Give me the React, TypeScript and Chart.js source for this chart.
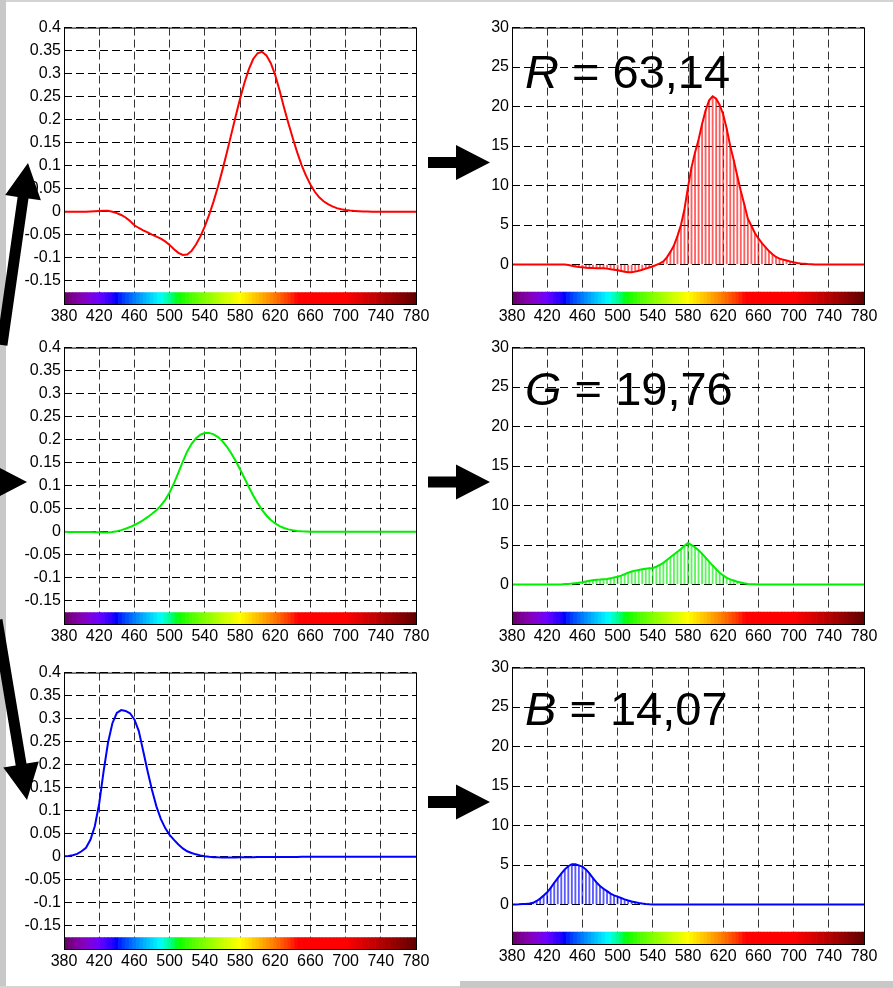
import React, { useEffect, useRef } from "react";
import { Chart, registerables } from "chart.js";

Chart.register(...registerables);

// ---------- DATA ----------
// Wavelengths (nm) for the colour-matching functions (left column)
const WL5 = [
  380, 385, 390, 395, 400, 405, 410, 415, 420, 425, 430, 435, 440, 445, 450, 455, 460, 465, 470, 475,
  480, 485, 490, 495, 500, 505, 510, 515, 520, 525, 530, 535, 540, 545, 550, 555, 560, 565, 570, 575,
  580, 585, 590, 595, 600, 605, 610, 615, 620, 625, 630, 635, 640, 645, 650, 655, 660, 665, 670, 675,
  680, 685, 690, 695, 700, 705, 710, 715, 720, 725, 730, 735, 740, 745, 750, 755, 760, 765, 770, 775, 780,
];

const R_BAR = [
  0.00003, 0.00005, 0.0001, 0.00017, 0.0003, 0.00047, 0.00084, 0.00139, 0.00211, 0.00266,
  0.00218, 0.00036, -0.00261, -0.00673, -0.01213, -0.02, -0.029, -0.035, -0.04, -0.04471,
  -0.04939, -0.05364, -0.05814, -0.06414, -0.07173, -0.0812, -0.08901, -0.09356, -0.09264, -0.08473,
  -0.07101, -0.05316, -0.03152, -0.00613, 0.02279, 0.05514, 0.0906, 0.1284, 0.16768, 0.20715,
  0.24526, 0.27989, 0.30928, 0.33184, 0.34429, 0.34756, 0.33971, 0.32265, 0.29708, 0.26348,
  0.22677, 0.19233, 0.15968, 0.12905, 0.10167, 0.07857, 0.05932, 0.04366, 0.03149, 0.02294,
  0.01687, 0.01187, 0.00819, 0.00572, 0.0041, 0.00291, 0.0021, 0.00148, 0.00105, 0.00074,
  0.00052, 0.00036, 0.00025, 0.00017, 0.00012, 0.00008, 0.00006, 0.00004, 0.00003, 0.00001, 0,
];

const G_BAR = [
  -0.00001, -0.00002, -0.00004, -0.00007, -0.00014, -0.00022, -0.00041, -0.0007, -0.0011, -0.00143,
  -0.00119, -0.00021, 0.00149, 0.00379, 0.00678, 0.01046, 0.01485, 0.01977, 0.02538, 0.03183,
  0.03914, 0.04713, 0.05689, 0.06948, 0.08536, 0.10593, 0.1286, 0.15262, 0.17468, 0.19113,
  0.20317, 0.21083, 0.21466, 0.21487, 0.21178, 0.20588, 0.19702, 0.18522, 0.17087, 0.15429,
  0.1361, 0.11686, 0.09754, 0.07909, 0.06246, 0.04776, 0.03557, 0.02583, 0.01828, 0.01253,
  0.00833, 0.00537, 0.00334, 0.00199, 0.00116, 0.00066, 0.00037, 0.00019, 0.00011, 0.00006,
  0.00003, 0.00001, 0, 0, 0, 0, 0, 0, 0, 0,
  0, 0, 0, 0, 0, 0, 0, 0, 0, 0, 0,
];

const B_BAR = [
  0.00117, 0.00189, 0.00359, 0.00647, 0.01214, 0.01969, 0.03707, 0.06637, 0.11541, 0.18575,
  0.24769, 0.29012, 0.31228, 0.3186, 0.3167, 0.31166, 0.29821, 0.27295, 0.22991, 0.18592,
  0.14494, 0.10968, 0.08257, 0.06246, 0.04776, 0.03688, 0.02698, 0.01842, 0.01221, 0.0083,
  0.00549, 0.0032, 0.00146, 0.00023, -0.00058, -0.00105, -0.0013, -0.00138, -0.00135, -0.00123,
  -0.00108, -0.00093, -0.00079, -0.00063, -0.00049, -0.00038, -0.0003, -0.00022, -0.00015, -0.00011,
  -0.00008, -0.00005, -0.00003, -0.00002, -0.00001, -0.00001, 0, 0, 0, 0,
  0, 0, 0, 0, 0, 0, 0, 0, 0, 0,
  0, 0, 0, 0, 0, 0, 0, 0, 0, 0, 0,
];

// Wavelengths (nm) for the weighted spectra (right column)
const WL4 = [
  380, 384, 388, 392, 396, 400, 404, 408, 412, 416, 420, 424, 428, 432, 436, 440, 444, 448, 452, 456,
  460, 464, 468, 472, 476, 480, 484, 488, 492, 496, 500, 504, 508, 512, 516, 520, 524, 528, 532, 536,
  540, 544, 548, 552, 556, 560, 564, 568, 572, 576, 580, 584, 588, 592, 596, 600, 604, 608, 612, 616,
  620, 624, 628, 632, 636, 640, 644, 648, 652, 656, 660, 664, 668, 672, 676, 680, 684, 688, 692, 696,
  700, 704, 708, 712, 716, 720, 724, 728, 732, 736, 740, 744, 748, 752, 756, 760, 764, 768, 772, 776, 780,
];

const R_OUT = [
  0, 0, 0, 0, 0, 0, 0, 0, 0, 0,
  0, 0, 0, 0, 0, 0, -0.05, -0.15, -0.25, -0.32,
  -0.36, -0.4, -0.43, -0.45, -0.46, -0.46, -0.48, -0.52, -0.6, -0.66,
  -0.72, -0.82, -0.92, -0.98, -0.97, -0.9, -0.8, -0.66, -0.52, -0.38,
  -0.25, -0.05, 0.15, 0.4, 0.9, 1.6, 2.4, 3.6, 5.0, 7.0,
  9.8, 12.3, 14.2, 15.8, 17.8, 19.5, 20.8, 21.3, 21.0, 20.2,
  19.0, 17.2, 15.0, 13.2, 11.2, 9.3, 7.6, 5.8, 4.9, 4.0,
  3.3, 2.7, 2.2, 1.7, 1.3, 0.95, 0.75, 0.62, 0.5, 0.38,
  0.28, 0.2, 0.14, 0.1, 0.06, 0.03, 0, 0, 0, 0,
  0, 0, 0, 0, 0, 0, 0, 0, 0, 0,
  0,
];

const G_OUT = [
  0, 0, 0, 0, 0, 0, 0, 0, 0, 0,
  0, 0, 0, 0, 0, 0.05, 0.08, 0.12, 0.17, 0.22,
  0.28, 0.38, 0.48, 0.55, 0.6, 0.63, 0.67, 0.7, 0.78, 0.9,
  1.0, 1.12, 1.3, 1.5, 1.65, 1.76, 1.84, 1.92, 2.0, 2.05,
  2.1, 2.25, 2.5, 2.75, 3.1, 3.45, 3.8, 4.15, 4.5, 4.9,
  5.25, 5.0, 4.7, 4.35, 3.9, 3.4, 2.9, 2.4, 1.95, 1.5,
  1.15, 0.85, 0.65, 0.5, 0.35, 0.25, 0.15, 0.08, 0.04, 0.02,
  0, 0, 0, 0, 0, 0, 0, 0, 0, 0,
  0, 0, 0, 0, 0, 0, 0, 0, 0, 0,
  0, 0, 0, 0, 0, 0, 0, 0, 0, 0,
  0,
];

const B_OUT = [
  0, 0, 0.02, 0.05, 0.08, 0.12, 0.22, 0.45, 0.75, 1.15,
  1.55, 2.1, 2.75, 3.35, 3.9, 4.45, 4.85, 5.1, 5.1, 4.95,
  4.8, 4.45, 3.95, 3.35, 2.8, 2.35, 2.0, 1.7, 1.38, 1.15,
  1.0, 0.82, 0.65, 0.5, 0.38, 0.3, 0.2, 0.12, 0.07, 0.03,
  0, 0, 0, 0, 0, 0, 0, 0, 0, 0,
  0, 0, 0, 0, 0, 0, 0, 0, 0, 0,
  0, 0, 0, 0, 0, 0, 0, 0, 0, 0,
  0, 0, 0, 0, 0, 0, 0, 0, 0, 0,
  0, 0, 0, 0, 0, 0, 0, 0, 0, 0,
  0, 0, 0, 0, 0, 0, 0, 0, 0, 0,
  0,
];

const CHANNELS = ["R", "G", "B"];
const TOTALS = ["63,14", "19,76", "14,07"];

// Tick labels
const X_TICKS = [380, 420, 460, 500, 540, 580, 620, 660, 700, 740, 780];
const LEFT_Y_TICKS = [0.4, 0.35, 0.3, 0.25, 0.2, 0.15, 0.1, 0.05, 0, -0.05, -0.1, -0.15];
const RIGHT_Y_TICKS = [30, 25, 20, 15, 10, 5, 0];

// Axis ranges and the spectrum strip band (value units)
const LEFT_RANGE = [-0.2, 0.4];
const RIGHT_RANGE = [-5, 30];
const LEFT_STRIP = [-0.2, -0.175];
const RIGHT_STRIP = [-5, -3.5];

// ---------- STYLE ----------
const FONT = "'Liberation Sans', Arial, Helvetica, sans-serif";
const LINE_COLORS = ["#ff0000", "#00ee00", "#0000ff"];
const STEM_COLORS = ["rgba(255,0,0,0.62)", "rgba(0,235,0,0.62)", "rgba(0,0,255,0.65)"];

function spectrumColor(w: number): string {
  let r = 0, g = 0, b = 0;
  if (w < 440) { r = (440 - w) / 60; b = 1; }
  else if (w < 490) { g = (w - 440) / 50; b = 1; }
  else if (w < 510) { g = 1; b = (510 - w) / 20; }
  else if (w < 580) { r = (w - 510) / 70; g = 1; }
  else if (w < 645) { r = 1; g = (645 - w) / 65; }
  else { r = 1; }
  const f = w < 420 ? 0.3 + (0.7 * (w - 380)) / 40 : w > 700 ? 0.3 + (0.7 * (780 - w)) / 80 : 1;
  const c = (v: number) => Math.round(255 * Math.pow(v * f, 0.8));
  return `rgb(${c(r)},${c(g)},${c(b)})`;
}

const framePlugin = {
  id: "frame",
  afterDatasetsDraw(chart: any) {
    const { ctx, chartArea: a } = chart;
    ctx.save();
    ctx.strokeStyle = "#000";
    ctx.lineWidth = 1;
    ctx.strokeRect(a.left + 0.5, a.top + 0.5, a.right - a.left, a.bottom - a.top);
    ctx.restore();
  },
};

type PanelProps = {
  left: number;
  top: number;
  yW: number;
  padR: number;
  right: boolean;
  channel: number;
};

const PLOT_W = 352;
const PLOT_H = 277;
const PAD_T = 12;
const X_AXIS_H = 30;

function Panel({ left, top, yW, padR, right, channel }: PanelProps) {
  const ref = useRef<HTMLCanvasElement | null>(null);
  const width = yW + PLOT_W + padR;
  const height = PAD_T + PLOT_H + X_AXIS_H;

  useEffect(() => {
    if (!ref.current) return;
    const wl = right ? WL4 : WL5;
    const vals = right ? [R_OUT, G_OUT, B_OUT][channel] : [R_BAR, G_BAR, B_BAR][channel];
    const range = right ? RIGHT_RANGE : LEFT_RANGE;
    const strip = right ? RIGHT_STRIP : LEFT_STRIP;
    const yTicks = right ? RIGHT_Y_TICKS : LEFT_Y_TICKS;

    const datasets: any[] = [
      {
        type: "line",
        data: wl.map((x, i) => ({ x, y: vals[i] })),
        borderColor: LINE_COLORS[channel],
        borderWidth: 2,
        pointRadius: 0,
        tension: 0,
        order: 0,
      },
    ];
    if (right) {
      datasets.push({
        type: "bar",
        data: wl.map((x, i) => ({ x, y: vals[i] })),
        backgroundColor: STEM_COLORS[channel],
        barThickness: 1.2,
        grouped: false,
        borderWidth: 0,
        order: 1,
      });
    }
    datasets.push({
      type: "bar",
      data: WL4.map((x) => ({ x, y: strip })),
      backgroundColor: WL4.map(spectrumColor),
      barPercentage: 1,
      categoryPercentage: 1,
      grouped: false,
      borderWidth: 0,
      order: 2,
    });

    const tickFont = { family: FONT, size: 16 };
    const chart = new Chart(ref.current, {
      type: "bar",
      data: { datasets },
      options: {
        responsive: false,
        animation: false,
        layout: { padding: { top: PAD_T, right: padR, left: 0, bottom: 0 } },
        plugins: { legend: { display: false }, tooltip: { enabled: false } },
        scales: {
          x: {
            type: "linear",
            min: 380,
            max: 780,
            offset: false,
            afterBuildTicks: (s: any) => {
              s.ticks = X_TICKS.map((v) => ({ value: v }));
            },
            afterFit: (s: any) => {
              s.height = X_AXIS_H;
            },
            grid: { color: "#333", lineWidth: 1, drawTicks: false, offset: false },
            border: { display: false, dash: [8, 4] },
            ticks: {
              padding: 3,
              color: "#000",
              font: tickFont,
              maxRotation: 0,
              minRotation: 0,
              autoSkip: false,
              callback: (v: any) => String(v),
            },
          },
          y: {
            type: "linear",
            min: range[0],
            max: range[1],
            afterBuildTicks: (s: any) => {
              s.ticks = yTicks.map((v) => ({ value: v }));
            },
            afterFit: (s: any) => {
              s.width = yW;
            },
            grid: { color: "#000", lineWidth: 1, drawTicks: false },
            border: { display: false, dash: [8, 4] },
            ticks: {
              padding: 3,
              color: "#000",
              font: tickFont,
              autoSkip: false,
              callback: (v: any) => String(v),
            },
          },
        },
      } as any,
      plugins: [framePlugin],
    } as any);
    return () => chart.destroy();
  }, [right, channel, yW, padR]);

  return (
    <canvas
      ref={ref}
      width={width}
      height={height}
      style={{ position: "absolute", left, top: top - PAD_T, width, height }}
    />
  );
}

function arrowPoints(x0: number, y0: number, x1: number, y1: number, s: number, hl: number, hw: number) {
  const dx = x1 - x0, dy = y1 - y0;
  const L = Math.hypot(dx, dy);
  const ux = dx / L, uy = dy / L;
  const px = -uy, py = ux;
  const bx = x1 - ux * hl, by = y1 - uy * hl;
  const pts = [
    [x0 + px * s, y0 + py * s],
    [bx + px * s, by + py * s],
    [bx + px * hw, by + py * hw],
    [x1, y1],
    [bx - px * hw, by - py * hw],
    [bx - px * s, by - py * s],
    [x0 - px * s, y0 - py * s],
  ];
  return pts.map((p) => `${p[0].toFixed(1)},${p[1].toFixed(1)}`).join(" ");
}

const ARROWS = [
  [2, 345, 28, 163, 5.5, 35, 18],
  [-40, 482, 27, 482, 5.5, 35, 18],
  [-3, 620, 27, 800, 5.5, 36, 18],
  [428, 162.5, 490, 162.5, 5.5, 34, 17.5],
  [428, 482, 490, 482, 5.5, 34, 17.5],
  [428, 802, 490, 802, 6, 34, 17.5],
];

const LEFT_TOPS = [27, 347, 672];
const RIGHT_TOPS = [27, 347, 667];
const LABEL_TOPS = [48, 365, 685];

export default function App() {
  return (
    <div
      style={{
        position: "absolute",
        left: 0,
        top: 0,
        width: 893,
        height: 988,
        background: "#fff",
        overflow: "hidden",
        fontFamily: FONT,
      }}
    >
      <div style={{ position: "absolute", left: 0, top: 0, width: 893, height: 2, background: "#d4d4d4" }} />
      <div style={{ position: "absolute", left: 0, top: 0, width: 6, height: 988, background: "#c8c8c8" }} />
      <div style={{ position: "absolute", left: 0, top: 986, width: 893, height: 2, background: "#d4d4d4" }} />
      <div style={{ position: "absolute", left: 460, top: 981, width: 433, height: 7, background: "#c8c8c8" }} />

      {CHANNELS.map((c, i) => (
        <Panel key={"l" + c} left={0} top={LEFT_TOPS[i]} yW={64} padR={20} right={false} channel={i} />
      ))}
      {CHANNELS.map((c, i) => (
        <Panel key={"r" + c} left={468} top={RIGHT_TOPS[i]} yW={44} padR={24} right={true} channel={i} />
      ))}

      {CHANNELS.map((c, i) => (
        <div
          key={"t" + c}
          style={{
            position: "absolute",
            left: 525,
            top: LABEL_TOPS[i],
            font: `47px ${FONT}`,
            lineHeight: "47px",
            color: "#000",
            whiteSpace: "nowrap",
          }}
        >
          <i>{c}</i> = {TOTALS[i]}
        </div>
      ))}

      <svg
        width={893}
        height={988}
        style={{ position: "absolute", left: 0, top: 0, pointerEvents: "none" }}
      >
        {ARROWS.map((a, i) => (
          <polygon key={i} points={arrowPoints(a[0], a[1], a[2], a[3], a[4], a[5], a[6])} fill="#000" />
        ))}
      </svg>
    </div>
  );
}
